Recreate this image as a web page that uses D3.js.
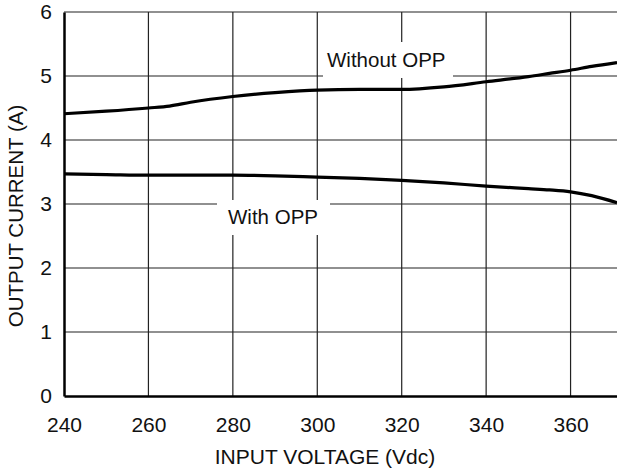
<!DOCTYPE html>
<html lang="en">
<head>
    <meta charset="UTF-8">
    <title>Output Current vs Input Voltage</title>
    <script src="https://d3js.org/d3.v7.min.js"></script>
    <style>
        body { margin: 0; background: #fff; }
        text { font-family: "Liberation Sans", Arial, sans-serif; fill: #111; }
    </style>
</head>
<body>
    <div id="chart"></div>

    <script>
        // values
        const voltage = [240, 250, 260, 265, 270, 280, 290, 300, 310, 320, 330, 340, 350, 355, 360, 365, 371];
        const withoutOpp = [4.41, 4.45, 4.50, 4.53, 4.59, 4.68, 4.74, 4.78, 4.79, 4.79, 4.83, 4.91, 4.99, 5.04, 5.09, 5.15, 5.21];
        const withOpp = [3.47, 3.46, 3.45, 3.45, 3.45, 3.45, 3.44, 3.42, 3.40, 3.37, 3.33, 3.28, 3.24, 3.22, 3.19, 3.13, 3.02];
        const xTicks = [240, 260, 280, 300, 320, 340, 360];
        const yTicks = [0, 1, 2, 3, 4, 5, 6];

        const W = 617, H = 470;
        const plot = {left: 64, top: 12, right: 617, bottom: 396};

        const x = d3.scaleLinear().domain([240, 371]).range([plot.left, plot.right]);
        const y = d3.scaleLinear().domain([0, 6]).range([plot.bottom, plot.top]);

        const svg = d3.select("#chart")
                      .append("svg")
                      .attr("width", W)
                      .attr("height", H);

        // grid
        const grid = svg.append("g").attr("stroke", "#222").attr("stroke-width", 1.2);
        grid.selectAll(".vx")
            .data(xTicks.slice(1))
            .enter()
            .append("line")
            .attr("x1", d => x(d)).attr("x2", d => x(d))
            .attr("y1", plot.top).attr("y2", plot.bottom);
        grid.selectAll(".hy")
            .data(yTicks.slice(1))
            .enter()
            .append("line")
            .attr("x1", plot.left).attr("x2", plot.right)
            .attr("y1", d => y(d)).attr("y2", d => y(d));

        // axes
        const xAxis = svg.append("g")
           .attr("transform", `translate(0, ${plot.bottom})`)
           .call(d3.axisBottom(x).tickValues(xTicks).tickFormat(d3.format("d")).tickSize(0).tickPadding(21));
        const yAxis = svg.append("g")
           .attr("transform", `translate(${plot.left}, 0)`)
           .call(d3.axisLeft(y).tickValues(yTicks).tickFormat(d3.format("d")).tickSize(0).tickPadding(12));
        [xAxis, yAxis].forEach(a => {
            a.select(".domain").attr("stroke", "#000").attr("stroke-width", 2.5);
            a.selectAll("text").attr("font-size", 21).attr("font-family", "Liberation Sans, Arial, sans-serif").attr("fill", "#111");
        });
        xAxis.selectAll("text").attr("dy", "0.71em");

        // curves
        const line = d3.line()
            .x((d, i) => x(voltage[i]))
            .y(d => y(d))
            .curve(d3.curveMonotoneX);

        [withoutOpp, withOpp].forEach(s => {
            svg.append("path")
               .attr("d", line(s))
               .attr("fill", "none")
               .attr("stroke", "#000")
               .attr("stroke-width", 3.2);
        });

        // curve labels with white boxes
        const labels = [
            {text: "Without OPP", bx: 323, by: 42, bw: 130, bh: 36, tx: 327, ty: 67},
            {text: "With OPP", bx: 217, by: 200, bw: 113, bh: 35, tx: 228, ty: 224}
        ];
        labels.forEach(l => {
            svg.append("rect")
               .attr("x", l.bx).attr("y", l.by)
               .attr("width", l.bw).attr("height", l.bh)
               .attr("fill", "#fff");
            svg.append("text")
               .attr("x", l.tx).attr("y", l.ty)
               .attr("font-size", 20.5)
               .text(l.text);
        });

        // axis titles
        svg.append("text")
           .attr("x", 325)
           .attr("y", 464)
           .attr("text-anchor", "middle")
           .attr("font-size", 21)
           .text("INPUT VOLTAGE (Vdc)");

        svg.append("text")
           .attr("transform", "translate(23, 216) rotate(-90)")
           .attr("text-anchor", "middle")
           .attr("font-size", 20.5)
           .text("OUTPUT CURRENT (A)");
    </script>
</body>
</html>
